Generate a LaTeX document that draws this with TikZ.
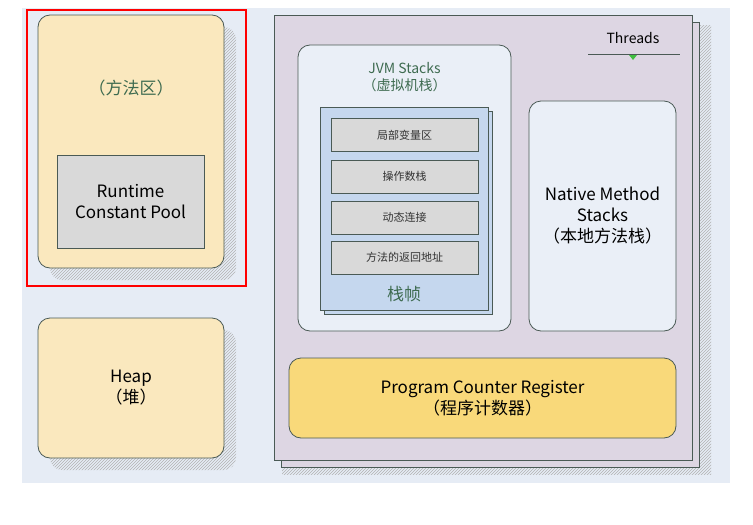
\documentclass[tikz,border=0pt]{standalone}
\usepackage{fontspec}
\setmainfont{Noto Sans CJK SC}
\usetikzlibrary{patterns}
\definecolor{bg}{HTML}{E6ECF5}
\definecolor{cream}{HTML}{FAE8BE}
\definecolor{lilac}{HTML}{DDD6E3}
\definecolor{pale}{HTML}{EAEFF7}
\definecolor{frame}{HTML}{C5D7EE}
\definecolor{cell}{HTML}{D9D9D9}
\definecolor{pcr}{HTML}{F9D97A}
\definecolor{grn}{HTML}{3E6B50}
\definecolor{edge}{HTML}{4A5A55}
\begin{document}
\begin{tikzpicture}[x=1pt,y=-1pt,
  box/.style={draw=edge,line width=0.8pt,rounded corners=12pt},
  sq/.style={draw=edge,line width=0.8pt},
  shadow/.style={pattern=north east lines,pattern color=gray!60,draw=none},
  lbl/.style={align=center,font=\fontsize{17}{21}\selectfont,text=black},
  small/.style={font=\fontsize{11}{13}\selectfont,text=gray!40!black}]
\useasboundingbox (0,0) rectangle (753,525);
\fill[bg] (22,8) rectangle (730,483);
% method area
\fill[shadow,rounded corners=12pt] (50,27) rectangle (236,280);
\draw[box,fill=cream] (38,15) rectangle (224,268);
\node[lbl,text=grn] (ma) at (131,88) {（方法区）};
\node[sq,fill=cell,minimum width=147,minimum height=93,lbl] (rcp) at (130.5,201.5) {Runtime\\Constant Pool};
\draw[red,line width=1.5pt] (27,10) rectangle (246,286);
% heap
\fill[shadow,rounded corners=12pt] (50,330) rectangle (236,470);
\node[box,fill=cream,minimum width=186,minimum height=140,lbl] (heap) at (131,388) {Heap\\（堆）};
% threads panel
\fill[shadow] (282,25) rectangle (711,474);
\draw[sq,fill=lilac] (281,22) rectangle (699,467);
\draw[sq,fill=lilac] (274,15) rectangle (692,460);
\node[font=\fontsize{14}{16}\selectfont] (th) at (633,38) {Threads};
\draw[edge,line width=0.8pt] (588,54) -- (680,54);
\fill[green!50!gray] (629,55) -- (637,55) -- (633,60) -- cycle;
% JVM stacks
\draw[box,fill=pale] (298,45) rectangle (511,331);
\node[align=center,text=grn,font=\fontsize{14}{17}\selectfont] (jvm) at (404.5,77) {JVM Stacks\\（虚拟机栈）};
\draw[sq,fill=frame] (324,111) rectangle (492,314);
\draw[sq,fill=frame] (320,107) rectangle (488,310);
\foreach \y/\t/\n in {135/局部变量区/c1,176.5/操作数栈/c2,217.5/动态连接/c3,257.5/方法的返回地址/c4}
  \node[sq,fill=cell,minimum width=147,minimum height=33,small] (\n) at (404.5,\y) {\t};
\node[text=grn,font=\fontsize{17}{19}\selectfont] (zz) at (404,294) {栈帧};
% native
\node[box,fill=pale,minimum width=147,minimum height=230,lbl] (nat) at (602.5,216) {Native Method\\Stacks\\（本地方法栈）};
% PCR
\node[box,fill=pcr,minimum width=387,minimum height=80,lbl] (pc) at (482.5,398) {Program Counter Register\\（程序计数器）};
\end{tikzpicture}
\end{document}
